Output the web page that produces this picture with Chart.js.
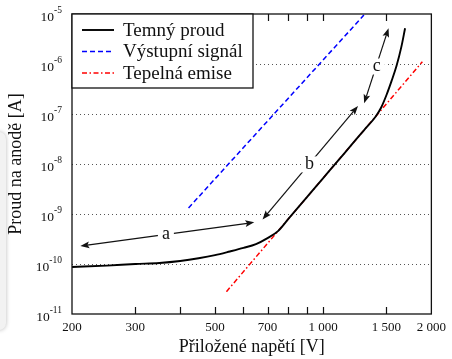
<!DOCTYPE html>
<html>
<head>
<meta charset="utf-8">
<script src="https://cdn.jsdelivr.net/npm/chart.js@4/dist/chart.umd.min.js"></script>
<style>
  html, body { margin: 0; padding: 0; background: #fff; }
  #wrap { position: relative; width: 452px; height: 359px; overflow: hidden; }
  #tab { position: absolute; left: -10px; top: 132px; width: 16px; height: 198px; border-radius: 7px; background: #f2f2f2; box-shadow: 0 0 4px rgba(0, 0, 0, 0.28); }
  #chart { position: absolute; left: 0; top: 0; }
</style>
</head>
<body>
<div id="wrap"><div id="tab"></div><canvas id="chart" width="452" height="359"></canvas></div>
<script>
// dark current of the tube, volts -> amps
const darkVoltage = [200, 250, 300, 350, 400, 450, 500, 550, 600, 650, 700, 750, 800, 900, 1000, 1100, 1200, 1300, 1400, 1450, 1500, 1550, 1600, 1650, 1690];
const darkCurrent = [8.7e-11, 9.3e-11, 1.0e-10, 1.05e-10, 1.15e-10, 1.3e-10, 1.5e-10, 1.78e-10, 2.1e-10, 2.5e-10, 3.3e-10, 4.6e-10, 7.96e-10, 2.15e-9, 5.23e-9, 1.17e-8, 2.43e-8, 4.78e-8, 8.93e-8, 1.35e-7, 2.4e-7, 4.6e-7, 9.2e-7, 2.2e-6, 5.2e-6];

// output signal
const signalVoltage = [422, 1298];
const signalCurrent = [1.32e-9, 9.5e-6];

// thermionic emission
const emissionVoltage = [538, 1888];
const emissionCurrent = [2.8e-11, 1.11e-6];

const xTicks = [200, 300, 400, 500, 600, 700, 800, 900, 1000, 1500, 2000];
const xTickLabels = ["200", "300", "", "500", "", "700", "", "", "1 000", "1 500", "2 000"];
const yTicks = [1e-11, 1e-10, 1e-9, 1e-8, 1e-7, 1e-6, 1e-5];

// arrows between regions a, b, c (volts, amps)
const arrowLabels = ["a", "b", "c"];
const arrowFrom = [[211, 2.29e-10], [678, 7.8e-10], [1300, 1.64e-7]];
const arrowTo = [[643, 6.8e-10], [1250, 1.45e-7], [1520, 5.2e-6]];
const arrowLabelAt = [[365, 4.0e-10], [916, 9.8e-9], [1410, 8.9e-7]];

const FAMILY = "'Liberation Serif', 'DejaVu Serif', serif";
const INK = "#111";

function toPoints(xs, ys) {
  return xs.map((v, i) => ({ x: v, y: ys[i] }));
}

function drawArrowHead(ctx, tipX, tipY, ang) {
  const len = 9, half = 3.4;
  ctx.beginPath();
  ctx.moveTo(tipX, tipY);
  ctx.lineTo(tipX - len * Math.cos(ang) + half * Math.sin(ang), tipY - len * Math.sin(ang) - half * Math.cos(ang));
  ctx.lineTo(tipX - len * 0.8 * Math.cos(ang), tipY - len * 0.8 * Math.sin(ang));
  ctx.lineTo(tipX - len * Math.cos(ang) - half * Math.sin(ang), tipY - len * Math.sin(ang) + half * Math.cos(ang));
  ctx.closePath();
  ctx.fill();
}

function drawDoubleArrow(ctx, x1, y1, x2, y2) {
  const ang = Math.atan2(y2 - y1, x2 - x1);
  const inset = 7;
  ctx.beginPath();
  ctx.moveTo(x1 + inset * Math.cos(ang), y1 + inset * Math.sin(ang));
  ctx.lineTo(x2 - inset * Math.cos(ang), y2 - inset * Math.sin(ang));
  ctx.stroke();
  drawArrowHead(ctx, x2, y2, ang);
  drawArrowHead(ctx, x1, y1, ang + Math.PI);
}

const decorations = {
  id: "decorations",
  beforeDatasetsDraw(chart) {
    const { ctx, chartArea: a, scales: { y } } = chart;
    ctx.save();
    ctx.strokeStyle = "#555";
    ctx.lineWidth = 1;
    ctx.setLineDash([1, 3]);
    yTicks.slice(1, -1).forEach((v) => {
      const py = Math.round(y.getPixelForValue(v)) + 0.5;
      ctx.beginPath();
      ctx.moveTo(a.left, py);
      ctx.lineTo(a.right, py);
      ctx.stroke();
    });
    ctx.restore();
  },
  afterDraw(chart) {
    const { ctx, chartArea: a, scales: { x, y } } = chart;
    ctx.save();

    // tick marks pointing inward, top and bottom
    ctx.strokeStyle = INK;
    ctx.lineWidth = 1.2;
    xTicks.slice(1, -1).forEach((v) => {
      const px = Math.round(x.getPixelForValue(v)) + 0.5;
      ctx.beginPath();
      ctx.moveTo(px, a.bottom);
      ctx.lineTo(px, a.bottom - 7);
      ctx.moveTo(px, a.top);
      ctx.lineTo(px, a.top + 7);
      ctx.stroke();
    });

    // frame
    ctx.lineWidth = 1.3;
    ctx.strokeRect(a.left, a.top, a.right - a.left, a.bottom - a.top);

    // y labels as powers of ten
    ctx.fillStyle = INK;
    ctx.textAlign = "right";
    ctx.textBaseline = "alphabetic";
    yTicks.forEach((v) => {
      const py = y.getPixelForValue(v);
      const exp = String(Math.round(Math.log10(v)));
      ctx.font = "9.5px " + FAMILY;
      const ew = ctx.measureText(exp).width;
      ctx.fillText(exp, a.left - 10, py - 1.5);
      ctx.font = "13.5px " + FAMILY;
      ctx.fillText("10", a.left - 10 - ew, py + 7);
    });

    // arrows with region letters
    ctx.lineWidth = 1.2;
    ctx.strokeStyle = INK;
    arrowFrom.forEach((p, i) => {
      const q = arrowTo[i];
      drawDoubleArrow(ctx, x.getPixelForValue(p[0]), y.getPixelForValue(p[1]), x.getPixelForValue(q[0]), y.getPixelForValue(q[1]));
    });
    ctx.font = "18px " + FAMILY;
    ctx.textAlign = "center";
    ctx.textBaseline = "middle";
    arrowLabels.forEach((t, i) => {
      const lx = x.getPixelForValue(arrowLabelAt[i][0]);
      const ly = y.getPixelForValue(arrowLabelAt[i][1]);
      const w = ctx.measureText(t).width + 8;
      ctx.fillStyle = "#fff";
      ctx.fillRect(lx - w / 2, ly - 8, w, 16);
      ctx.fillStyle = INK;
      ctx.fillText(t, lx, ly);
    });

    // legend box in the top left corner
    const box = { left: a.left, top: a.top, width: 181, height: 74 };
    ctx.fillStyle = "#fff";
    ctx.fillRect(box.left, box.top, box.width, box.height);
    ctx.lineWidth = 1.3;
    ctx.strokeStyle = INK;
    ctx.strokeRect(box.left, box.top, box.width, box.height);
    ctx.font = "19px " + FAMILY;
    ctx.textAlign = "left";
    ctx.textBaseline = "middle";
    chart.data.datasets.forEach((ds, i) => {
      const ry = box.top + 16 + i * 21.5;
      ctx.save();
      ctx.strokeStyle = ds.borderColor;
      ctx.lineWidth = ds.borderWidth;
      ctx.setLineDash(ds.borderDash || []);
      ctx.beginPath();
      ctx.moveTo(box.left + 10, ry);
      ctx.lineTo(box.left + 42, ry);
      ctx.stroke();
      ctx.restore();
      ctx.fillStyle = INK;
      ctx.fillText(ds.label, box.left + 51, ry + 1);
    });

    ctx.restore();
  },
};

new Chart(document.getElementById("chart").getContext("2d"), {
  type: "line",
  data: {
    datasets: [
      {
        label: "Temný proud",
        data: toPoints(darkVoltage, darkCurrent),
        borderColor: "#000",
        borderWidth: 1.9,
        cubicInterpolationMode: "monotone",
        pointRadius: 0,
      },
      {
        label: "Výstupní signál",
        data: toPoints(signalVoltage, signalCurrent),
        borderColor: "#0000ff",
        borderWidth: 1.5,
        borderDash: [5, 3],
        pointRadius: 0,
      },
      {
        label: "Tepelná emise",
        data: toPoints(emissionVoltage, emissionCurrent),
        borderColor: "#ff0000",
        borderWidth: 1.5,
        borderDash: [5, 2.5, 1.5, 2.5],
        pointRadius: 0,
      },
    ],
  },
  options: {
    responsive: false,
    animation: false,
    events: [],
    layout: { padding: { top: 14, right: 16, left: 0, bottom: 0 } },
    plugins: {
      legend: { display: false },
      tooltip: { enabled: false },
    },
    scales: {
      x: {
        type: "logarithmic",
        min: 200,
        max: 2000,
        grid: { display: false, drawTicks: false },
        border: { display: false },
        afterBuildTicks: (s) => {
          s.ticks = xTicks.map((v) => ({ value: v }));
        },
        afterFit: (s) => {
          s.height = 45;
        },
        ticks: {
          autoSkip: false,
          maxRotation: 0,
          padding: 6,
          color: INK,
          font: { family: FAMILY, size: 13 },
          callback: (v) => xTickLabels[xTicks.indexOf(v)],
        },
        title: {
          display: true,
          text: "Přiložené napětí [V]",
          color: INK,
          font: { family: FAMILY, size: 18 },
          padding: { top: 0, bottom: 1 },
        },
      },
      y: {
        type: "logarithmic",
        min: 1e-11,
        max: 1e-5,
        grid: { display: false },
        border: { display: false },
        ticks: { display: false },
        afterBuildTicks: (s) => {
          s.ticks = yTicks.map((v) => ({ value: v }));
        },
        afterFit: (s) => {
          s.width = 72;
        },
        title: {
          display: true,
          text: "Proud na anodě [A]",
          color: INK,
          font: { family: FAMILY, size: 18 },
          padding: { top: 5, bottom: 0 },
        },
      },
    },
  },
  plugins: [decorations],
});
</script>
</body>
</html>
